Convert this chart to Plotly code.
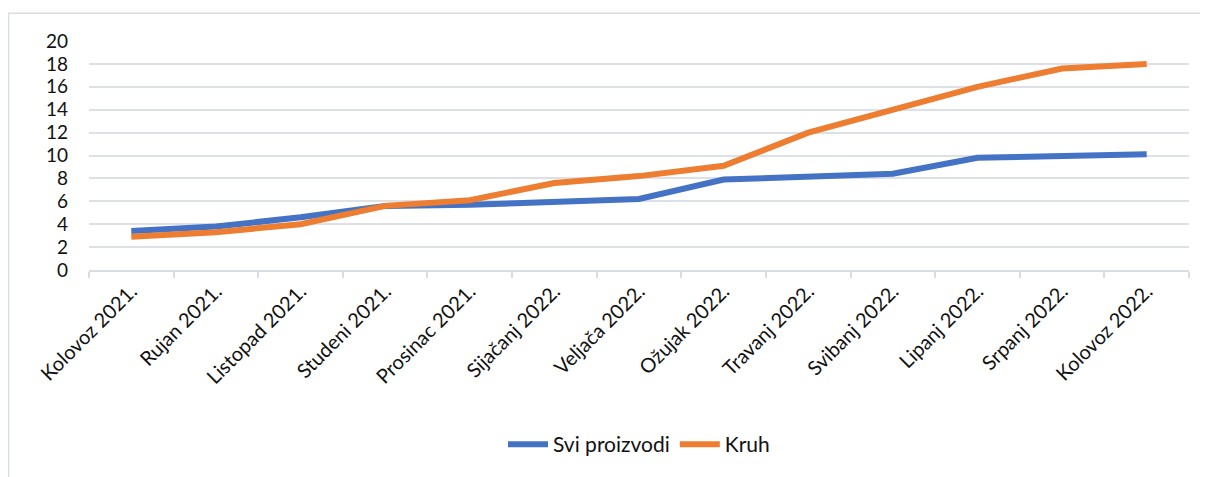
import plotly.graph_objects as go

# Monthly series
months = [
    'Kolovoz 2021.', 'Rujan 2021.', 'Listopad 2021.', 'Studeni 2021.',
    'Prosinac 2021.', 'Sijačanj 2022.', 'Veljača 2022.', 'Ožujak 2022.',
    'Travanj 2022.', 'Svibanj 2022.', 'Lipanj 2022.', 'Srpanj 2022.',
    'Kolovoz 2022.',
]
svi_proizvodi = [3.4, 3.8, 4.6, 5.6, 5.7, 5.9, 6.2, 7.9, 8.1, 8.4, 9.8, 9.9, 10.1]
kruh = [2.9, 3.3, 4.0, 5.6, 6.1, 7.6, 8.2, 9.1, 12.0, 14.0, 16.0, 17.6, 18.0]
y_ticks = list(range(0, 21, 2))

# the page body adds an 8px margin, so the figure is a bit smaller
W, H = 1200, 469
ML, MR, MT, MB = 81, 19, 33, 205
PW = W - ML - MR
PH = H - MT - MB
BORDER = '#D9DDE3'

fig = go.Figure()
fig.add_trace(go.Scatter(
    x=months, y=svi_proizvodi, mode='lines', name='Svi proizvodi',
    line=dict(color='#4472C4', width=6),
))
fig.add_trace(go.Scatter(
    x=months, y=kruh, mode='lines', name='Kruh',
    line=dict(color='#ED7D31', width=6),
))

# outer chart border (cut off at right and bottom in the reference)
fig.add_shape(
    type='rect', xref='paper', yref='paper',
    x0=(0.5 - ML) / PW, x1=(W + 10 - ML) / PW,
    y0=-(H - MT - PH + 10) / PH, y1=(PH + MT - 5) / PH,
    line=dict(color=BORDER, width=1.5), layer='below',
)

fig.update_layout(
    width=W, height=H,
    margin=dict(l=ML, r=MR, t=MT, b=MB),
    paper_bgcolor='white', plot_bgcolor='white',
    font=dict(family='Lato, Open Sans, sans-serif', size=20, color='#111111'),
    showlegend=True,
    legend=dict(
        orientation='h', x=0.5, xanchor='center', y=-0.762, yanchor='middle',
        font=dict(size=21), itemwidth=40,
    ),
    xaxis=dict(
        type='category', tickangle=-45, showgrid=False,
        showline=True, linecolor=BORDER, linewidth=1.5,
        ticks='outside', ticklen=6, tickcolor=BORDER, tickwidth=1.5,
        tickson='boundaries', range=[-0.5, len(months) - 0.5],
    ),
    yaxis=dict(
        range=[0, 20], tickvals=y_ticks, showgrid=True,
        gridcolor='#DDE1E7', gridwidth=1.5, zeroline=False,
        showline=False, ticks='', ticklabelstandoff=20,
        tickfont=dict(size=19),
    ),
)

fig.write_html('out.html')
